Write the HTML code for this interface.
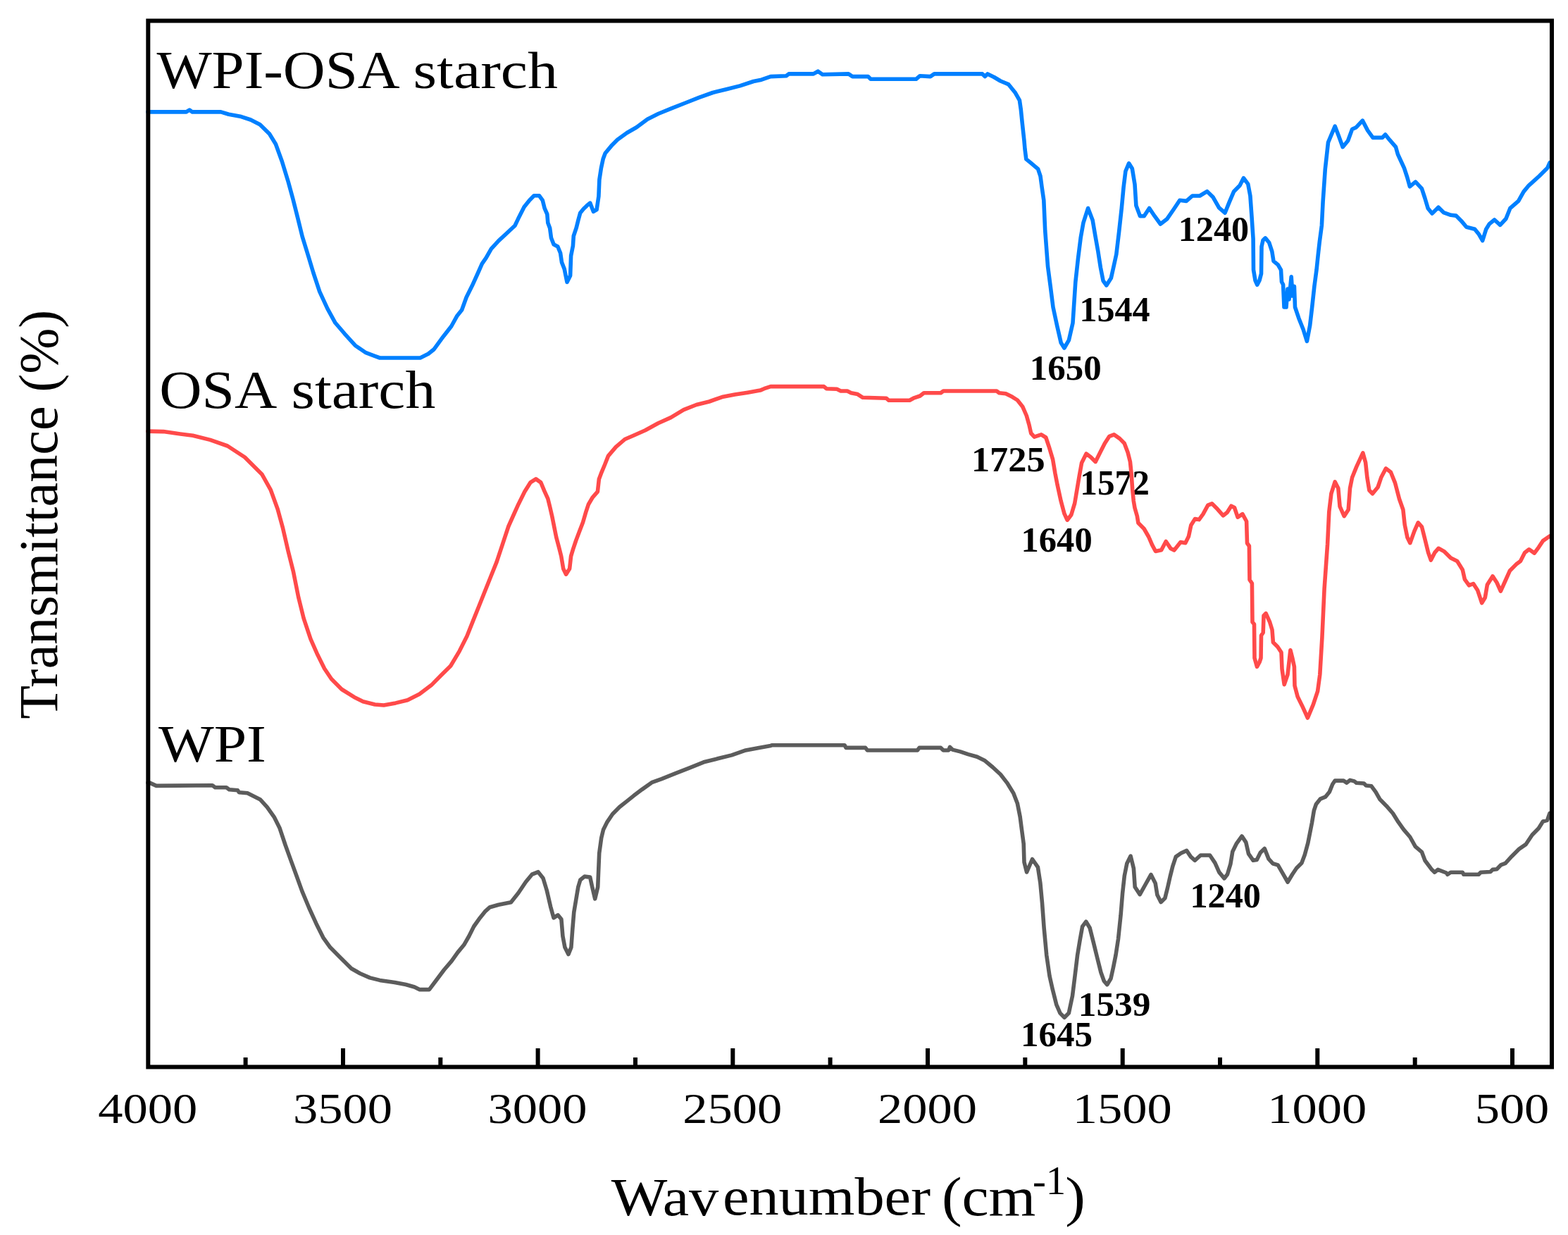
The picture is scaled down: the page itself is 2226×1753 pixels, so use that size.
<!DOCTYPE html>
<html><head><meta charset="utf-8"><title>FTIR spectra: WPI-OSA starch, OSA starch, WPI</title>
<style>
html,body{margin:0;padding:0;background:#fff;}
body{width:2226px;height:1753px;overflow:hidden;}
svg{display:block;}
text{font-family:"Liberation Serif","Times New Roman",serif;fill:#000;}
</style></head><body>
<svg width="2226" height="1753" viewBox="0 0 2226 1753">
<rect x="0" y="0" width="2226" height="1753" fill="#fff"/>
<text transform="translate(1532.39,455.80) scale(1.0032,1.0303)" font-size="50" font-weight="bold">1544</text>
<text transform="translate(1461.82,539.00) scale(1.0191,1.0152)" font-size="50" font-weight="bold">1650</text>
<text transform="translate(1672.79,342.30) scale(1.0021,1.0182)" font-size="50" font-weight="bold">1240</text>
<text transform="translate(1378.91,669.30) scale(1.0468,1.0182)" font-size="50" font-weight="bold">1725</text>
<text transform="translate(1533.26,702.10) scale(0.9851,1.0182)" font-size="50" font-weight="bold">1572</text>
<text transform="translate(1449.55,782.50) scale(1.0117,1.0182)" font-size="50" font-weight="bold">1640</text>
<text transform="translate(1689.38,1287.90) scale(1.0053,1.0000)" font-size="50" font-weight="bold">1240</text>
<text transform="translate(1530.69,1441.60) scale(1.0277,0.9818)" font-size="50" font-weight="bold">1539</text>
<text transform="translate(1449.12,1485.20) scale(1.0202,1.0182)" font-size="50" font-weight="bold">1645</text>
<g fill="none" stroke-linejoin="round" stroke-linecap="round" stroke-width="5.6">
<polyline stroke="#5C5C5C" points="210.0,1111.0 212.0,1110.9 221.9,1115.4 301.5,1114.8 305.5,1117.8 321.4,1117.8 325.4,1120.8 337.4,1121.8 339.4,1124.8 351.3,1125.8 369.2,1134.7 379.2,1145.7 389.1,1159.6 397.1,1175.6 405.1,1199.5 413.0,1221.4 421.0,1243.3 428.9,1265.1 438.9,1289.0 448.9,1310.9 458.8,1330.8 468.8,1344.8 482.7,1358.7 498.8,1374.7 511.1,1381.7 525.1,1387.9 539.2,1391.4 560.3,1394.4 576.1,1397.5 588.4,1401.0 595.4,1404.6 609.4,1404.6 620.0,1390.5 630.5,1376.5 641.1,1364.2 649.8,1351.9 658.6,1341.3 665.7,1329.0 672.7,1315.0 681.5,1302.7 688.5,1293.9 695.5,1287.7 707.8,1284.2 725.4,1280.7 735.9,1267.5 746.5,1251.7 755.2,1241.2 764.0,1237.7 771.0,1246.5 776.3,1264.0 781.6,1286.9 786.0,1302.8 792.0,1298.8 796.9,1304.8 798.9,1328.7 801.9,1344.6 806.9,1354.6 810.9,1344.6 812.8,1318.7 814.8,1294.8 817.8,1276.9 820.8,1259.0 823.8,1249.0 829.8,1244.1 837.7,1245.1 840.7,1259.0 844.7,1275.9 848.7,1259.0 850.7,1211.2 853.7,1189.3 856.6,1177.4 861.6,1167.4 869.6,1155.5 879.5,1145.5 889.5,1137.6 899.5,1129.6 911.4,1120.6 925.3,1110.7 939.3,1105.7 959.2,1097.7 979.1,1089.8 999.0,1081.8 1018.9,1076.8 1038.8,1071.9 1058.7,1064.9 1077.4,1061.4 1094.0,1058.6 1095.8,1057.7 1199.1,1057.7 1200.9,1061.4 1228.6,1061.4 1231.4,1065.0 1302.4,1065.0 1305.1,1061.4 1335.6,1061.4 1339.2,1065.0 1346.6,1065.0 1348.5,1060.4 1352.2,1064.1 1363.2,1066.9 1374.3,1070.6 1387.2,1074.3 1398.3,1079.8 1409.3,1089.0 1420.4,1099.2 1429.6,1111.1 1438.8,1125.9 1444.4,1140.6 1448.1,1159.1 1450.5,1177.5 1453.2,1197.6 1454.0,1223.9 1457.6,1238.0 1465.5,1219.5 1473.4,1230.9 1476.9,1253.7 1479.5,1281.8 1482.1,1317.0 1485.7,1355.6 1490.0,1385.4 1494.4,1404.8 1499.7,1425.8 1505.0,1438.1 1511.1,1444.3 1517.3,1438.1 1522.5,1413.5 1526.0,1385.4 1529.6,1355.6 1533.1,1334.5 1536.6,1315.2 1541.8,1308.2 1547.1,1317.0 1552.4,1338.0 1557.6,1359.1 1562.9,1380.2 1567.3,1392.5 1571.7,1397.7 1577.0,1389.0 1580.5,1373.2 1584.0,1355.6 1587.5,1332.8 1591.0,1299.4 1593.6,1267.8 1596.3,1243.2 1599.8,1225.7 1605.1,1215.1 1609.4,1232.7 1611.2,1259.0 1618.2,1269.6 1626.1,1255.5 1634.0,1241.5 1640.2,1253.7 1642.9,1270.3 1648.1,1280.6 1653.9,1274.7 1657.6,1260.0 1661.2,1244.0 1664.9,1229.3 1669.3,1216.1 1676.6,1211.0 1684.6,1207.4 1690.5,1216.1 1696.4,1221.3 1704.4,1214.0 1717.6,1214.0 1724.9,1224.9 1730.8,1238.1 1738.1,1246.9 1742.5,1241.0 1746.9,1226.4 1749.8,1208.8 1755.6,1197.1 1763.0,1186.9 1768.8,1195.6 1772.5,1211.8 1779.1,1221.3 1784.2,1220.5 1789.3,1210.3 1795.2,1204.4 1801.0,1219.1 1806.9,1225.7 1814.2,1227.9 1820.1,1238.1 1828.1,1252.0 1834.7,1241.0 1840.6,1232.2 1847.9,1224.9 1852.3,1213.2 1856.7,1197.1 1859.6,1182.5 1862.5,1167.8 1865.4,1150.3 1868.4,1141.5 1874.2,1134.2 1881.5,1131.2 1887.4,1123.9 1891.8,1113.0 1895.2,1108.1 1907.4,1108.1 1911.9,1111.2 1916.5,1107.4 1922.6,1108.9 1925.6,1111.2 1936.3,1112.0 1939.3,1115.0 1946.9,1115.8 1953.0,1124.1 1959.1,1134.8 1968.2,1143.9 1977.4,1154.5 1985.0,1166.7 1992.6,1177.4 2001.7,1188.0 2009.3,1201.7 2018.4,1209.3 2023.0,1221.5 2032.1,1233.7 2036.7,1238.2 2041.3,1234.4 2053.4,1239.0 2055.0,1241.3 2059.5,1238.2 2076.3,1238.2 2077.8,1241.3 2099.1,1241.3 2102.1,1238.2 2115.8,1237.5 2118.9,1234.4 2124.9,1233.7 2131.0,1227.6 2137.1,1225.3 2146.2,1215.4 2156.9,1204.8 2166.0,1198.7 2175.2,1185.0 2184.3,1175.8 2190.4,1166.0 2196.5,1164.4 2200.0,1154.5"/>
<polyline stroke="#FF4A4A" points="210.0,612.1 232.0,612.6 249.2,615.1 273.8,618.3 298.4,624.4 323.0,633.0 347.5,649.0 372.1,673.6 384.4,695.7 394.2,722.8 401.6,749.8 409.0,781.8 416.4,811.3 423.8,848.2 431.1,877.7 441.0,907.2 450.8,929.3 460.6,949.0 470.5,963.7 485.2,978.5 502.7,989.4 515.3,995.8 532.2,1000.0 544.8,1001.0 561.7,997.9 578.6,993.7 595.4,985.2 612.3,972.6 627.0,957.8 639.7,945.2 652.3,924.1 662.9,903.0 671.3,881.9 679.8,860.8 688.2,839.8 696.6,818.7 705.1,797.6 713.5,772.3 721.9,747.0 730.4,728.0 736.0,715.7 744.9,697.8 752.9,684.9 760.8,679.9 767.8,684.9 772.8,696.8 777.8,707.8 780.7,719.7 783.7,732.6 786.7,747.6 789.7,762.5 793.7,777.4 796.7,789.4 799.7,807.3 803.6,815.2 808.6,807.3 810.6,789.4 813.6,779.4 817.6,767.5 822.5,754.5 827.5,741.6 831.5,727.7 835.5,715.7 841.4,705.8 848.4,697.8 850.4,679.9 853.4,671.9 858.4,660.0 863.5,647.1 874.4,634.4 887.1,623.5 899.8,618.0 916.1,610.8 934.3,600.8 952.4,592.6 970.6,581.7 988.7,574.5 1006.9,570.0 1025.0,563.6 1043.2,560.0 1061.4,557.2 1079.2,554.1 1084.8,551.7 1094.0,548.6 1169.6,548.6 1173.3,551.7 1188.0,552.3 1193.6,555.0 1202.8,555.0 1208.3,557.8 1217.5,559.6 1224.9,564.3 1258.1,565.2 1261.8,568.3 1291.3,568.3 1296.8,565.2 1306.1,562.0 1311.6,557.8 1335.6,557.8 1339.2,555.0 1414.9,555.0 1418.5,557.8 1427.8,558.7 1437.0,563.3 1444.4,568.0 1451.7,577.2 1457.3,590.0 1461.0,603.0 1463.7,615.0 1468.4,620.2 1478.2,616.9 1484.8,621.0 1489.7,635.7 1494.6,652.1 1497.9,671.8 1501.1,688.2 1506.1,711.1 1511.0,729.2 1515.1,738.2 1520.8,730.8 1525.7,714.4 1529.0,694.8 1532.3,675.1 1535.6,657.0 1542.1,643.9 1548.7,648.9 1555.2,655.4 1561.8,642.3 1568.4,629.2 1574.9,619.3 1581.5,616.9 1589.7,622.6 1596.2,629.2 1601.1,642.3 1604.4,655.4 1606.1,671.8 1607.7,694.8 1609.3,711.1 1611.0,721.0 1614.3,732.5 1615.9,742.3 1624.1,750.5 1630.7,762.0 1635.6,773.4 1640.5,782.5 1648.7,780.8 1655.2,768.5 1661.8,778.4 1666.9,781.0 1676.0,769.6 1682.8,770.7 1687.4,761.6 1690.8,745.6 1696.5,736.5 1702.2,737.6 1708.0,729.6 1714.8,717.1 1720.5,714.8 1728.5,722.8 1736.5,731.9 1742.2,727.3 1747.9,718.2 1752.5,720.5 1757.1,734.2 1763.9,729.6 1769.6,740.0 1770.5,771.0 1773.4,775.0 1774.0,823.0 1777.4,828.0 1778.0,883.0 1780.5,886.0 1781.0,934.0 1784.5,946.4 1788.0,940.0 1790.0,934.0 1790.5,902.0 1793.2,898.0 1794.0,874.0 1797.1,870.6 1802.7,883.2 1806.0,894.0 1807.4,911.7 1813.7,918.0 1819.0,926.0 1820.0,949.6 1823.2,971.7 1828.0,957.5 1831.9,922.7 1835.0,935.0 1837.4,946.4 1838.0,973.3 1842.2,989.0 1848.5,1001.7 1856.4,1019.0 1864.3,1000.2 1870.6,981.2 1873.8,957.5 1876.9,905.4 1880.1,835.8 1884.6,772.2 1886.8,726.5 1889.9,700.7 1895.2,683.9 1899.8,693.1 1902.1,718.9 1908.2,732.6 1914.2,723.5 1916.5,693.1 1919.6,677.8 1925.7,662.6 1934.8,642.8 1938.6,656.5 1940.9,677.8 1943.9,696.1 1948.5,700.7 1956.1,691.5 1960.7,677.8 1967.5,664.9 1974.4,670.2 1980.5,685.4 1986.5,708.3 1991.9,723.5 1994.2,744.8 1998.0,763.1 2001.8,770.7 2007.9,753.9 2013.2,741.8 2018.5,747.9 2023.1,766.1 2027.6,784.4 2031.4,795.0 2036.8,784.4 2042.1,778.3 2050.5,782.9 2059.6,792.0 2068.7,796.6 2076.3,808.7 2079.4,822.4 2085.5,830.8 2091.6,828.5 2097.6,837.7 2103.7,855.9 2108.3,848.3 2111.4,830.0 2119.0,817.9 2125.0,827.0 2130.4,839.2 2137.2,824.0 2143.3,810.3 2152.4,801.1 2158.5,796.6 2164.6,784.4 2170.7,779.8 2178.3,785.1 2184.4,776.8 2190.5,767.6 2200.0,761.0"/>
<polyline stroke="#0080FF" points="210.0,158.9 264.5,158.9 269.0,156.0 273.0,158.9 313.5,158.9 324.6,162.3 342.4,165.6 355.8,170.0 369.0,176.7 382.5,190.0 391.4,204.5 400.3,229.0 409.2,258.0 415.9,282.4 422.6,309.0 429.2,335.9 438.1,364.8 444.8,387.0 453.7,413.8 464.9,438.2 476.0,458.3 489.3,473.8 504.8,490.8 519.5,500.7 532.6,505.6 539.2,508.0 596.6,508.0 608.0,502.3 616.2,495.7 629.3,477.7 640.8,463.0 649.0,448.2 655.6,440.0 662.1,422.0 670.3,405.6 678.5,387.5 684.3,374.4 690.0,366.2 697.4,353.1 708.0,341.6 719.5,331.0 731.0,320.3 735.6,310.6 744.1,293.7 751.5,284.4 758.1,277.8 765.6,277.8 770.3,284.4 773.1,295.6 776.8,304.0 777.8,316.2 780.6,323.7 782.5,337.8 786.2,347.1 791.8,350.0 795.6,359.3 797.5,372.4 801.2,381.8 803.1,391.2 805.0,400.5 809.6,391.2 810.6,363.1 813.4,349.0 814.3,335.0 818.1,323.7 820.9,312.5 823.7,302.2 828.4,296.5 833.1,291.9 837.7,288.1 842.4,300.3 847.1,297.5 849.9,278.7 850.9,255.0 853.4,238.7 856.3,225.2 859.2,217.5 868.9,205.9 876.6,198.2 890.1,188.5 903.6,180.8 919.1,169.2 934.5,161.5 953.8,153.7 973.2,146.0 992.5,138.3 1011.8,131.5 1031.1,126.7 1050.4,121.9 1069.7,115.5 1081.0,113.2 1094.0,108.6 1116.1,107.7 1119.8,104.9 1154.8,104.9 1161.3,101.2 1167.7,105.8 1204.6,104.9 1210.2,108.6 1232.3,108.6 1236.0,112.3 1300.5,112.3 1306.0,107.7 1320.8,108.6 1326.3,104.9 1394.6,104.9 1398.3,108.6 1402.0,104.9 1411.2,109.5 1420.4,115.0 1431.5,119.6 1441.0,131.2 1447.4,142.4 1449.3,155.5 1451.2,174.3 1454.0,200.0 1455.0,211.7 1456.8,225.8 1462.4,230.4 1473.6,239.8 1477.0,250.0 1479.0,265.0 1481.8,284.3 1483.7,327.3 1487.5,377.9 1491.2,406.0 1495.0,436.0 1500.6,462.2 1506.2,486.5 1510.9,494.0 1517.4,482.8 1523.0,458.4 1526.8,400.4 1530.5,366.7 1534.3,336.7 1538.0,316.1 1544.6,295.5 1551.1,312.4 1554.9,334.8 1558.6,355.4 1562.4,379.8 1566.1,398.5 1570.8,405.0 1577.3,394.8 1581.1,377.9 1584.8,361.0 1588.6,329.2 1592.3,295.5 1595.1,265.5 1597.9,243.0 1602.6,231.8 1607.3,239.3 1611.0,261.8 1612.9,291.8 1618.5,306.7 1624.2,306.7 1631.6,295.5 1639.1,306.7 1647.4,318.0 1656.9,310.7 1666.3,297.0 1674.8,284.3 1684.2,285.4 1692.7,278.0 1703.2,278.0 1713.7,271.7 1722.2,280.1 1730.6,294.9 1739.0,302.2 1745.4,286.4 1751.7,271.7 1760.1,263.2 1765.4,252.7 1771.7,261.1 1774.9,278.0 1777.0,307.5 1779.1,339.1 1779.5,383.0 1782.0,398.0 1784.8,404.3 1788.0,398.0 1790.5,388.5 1791.0,350.0 1793.0,341.0 1796.3,337.9 1801.6,344.2 1805.8,356.9 1808.0,370.6 1814.3,375.8 1818.5,383.2 1819.5,400.0 1821.6,404.0 1823.0,436.0 1826.0,436.0 1828.0,410.0 1830.0,425.0 1833.2,392.7 1835.0,420.0 1837.4,406.4 1838.5,436.0 1843.8,451.7 1850.1,467.5 1855.4,484.4 1859.6,462.3 1862.7,435.9 1865.9,406.4 1869.0,383.2 1871.2,362.0 1873.3,343.2 1876.4,320.0 1878.1,286.4 1881.3,240.0 1885.5,202.1 1895.2,179.2 1900.3,192.5 1906.2,208.7 1913.6,199.8 1919.5,183.6 1925.4,180.7 1934.3,171.1 1941.6,185.1 1949.0,195.4 1962.3,195.4 1966.7,191.0 1972.6,198.4 1981.5,208.7 1984.4,219.0 1993.3,238.2 1997.7,251.5 2001.4,264.8 2009.5,258.1 2018.4,267.7 2022.8,281.0 2027.2,295.7 2033.1,303.1 2042.0,294.3 2049.3,301.6 2059.7,305.3 2067.0,306.1 2074.4,313.4 2081.8,322.3 2093.6,325.2 2099.5,332.6 2104.7,341.5 2109.8,325.2 2114.3,317.9 2121.6,312.0 2129.7,319.3 2137.9,310.5 2143.8,295.7 2155.6,285.4 2163.0,272.1 2170.3,263.3 2185.1,250.0 2196.9,238.2 2200.0,231.0"/>
</g>
<g stroke="#000" stroke-width="6" fill="none">
<rect x="210.3" y="29.5" width="1992.7" height="1485"/>
<line x1="348.6" y1="1501" x2="348.6" y2="1512"/><line x1="487.0" y1="1488" x2="487.0" y2="1512"/><line x1="625.3" y1="1501" x2="625.3" y2="1512"/><line x1="763.6" y1="1488" x2="763.6" y2="1512"/><line x1="902.0" y1="1501" x2="902.0" y2="1512"/><line x1="1040.3" y1="1488" x2="1040.3" y2="1512"/><line x1="1178.6" y1="1501" x2="1178.6" y2="1512"/><line x1="1317.0" y1="1488" x2="1317.0" y2="1512"/><line x1="1455.3" y1="1501" x2="1455.3" y2="1512"/><line x1="1593.7" y1="1488" x2="1593.7" y2="1512"/><line x1="1732.0" y1="1501" x2="1732.0" y2="1512"/><line x1="1870.3" y1="1488" x2="1870.3" y2="1512"/><line x1="2008.7" y1="1501" x2="2008.7" y2="1512"/><line x1="2147.0" y1="1488" x2="2147.0" y2="1512"/>
</g>
<g font-size="60">
<text transform="translate(209.8,1594.4) scale(1.175,1.015)" text-anchor="middle">4000</text><text transform="translate(486.5,1594.4) scale(1.175,1.015)" text-anchor="middle">3500</text><text transform="translate(763.1,1594.4) scale(1.175,1.015)" text-anchor="middle">3000</text><text transform="translate(1039.8,1594.4) scale(1.175,1.015)" text-anchor="middle">2500</text><text transform="translate(1316.5,1594.4) scale(1.175,1.015)" text-anchor="middle">2000</text><text transform="translate(1593.2,1594.4) scale(1.175,1.015)" text-anchor="middle">1500</text><text transform="translate(1869.8,1594.4) scale(1.175,1.015)" text-anchor="middle">1000</text><text transform="translate(2146.5,1594.4) scale(1.175,1.015)" text-anchor="middle">500</text>
</g>
<text transform="translate(222.40,125.01) scale(1.0905,0.9941)" font-size="76">WPI-OSA</text>
<text transform="translate(586.60,125.02) scale(1.1322,0.9833)" font-size="76">starch</text>
<text transform="translate(226.20,578.50) scale(1.0987,1.0020)" font-size="76">OSA</text>
<text transform="translate(413.62,578.50) scale(1.1277,0.9981)" font-size="76">starch</text>
<text transform="translate(225.00,1080.52) scale(1.0978,0.9843)" font-size="76">WPI</text>
<text transform="translate(80.64,1020.63) rotate(-90) scale(1.0285,1.0159)" font-size="76">Transmittance (%)</text>
<text transform="translate(867.80,1724.50) scale(1.1102,1.0039)" font-size="76">Wav</text>
<text transform="translate(1025.97,1724.49) scale(1.1103,1.0148)" font-size="76">enumber</text>
<text transform="translate(1336.91,1725.16) scale(1.1298,1.0275)" font-size="76">(cm</text>
<text transform="translate(1465.93,1695.20) scale(1.1351,1.1424)" font-size="50">-1</text>
<text transform="translate(1512.34,1724.92) scale(1.1300,1.0426)" font-size="76">)</text>
</svg>
</body></html>
